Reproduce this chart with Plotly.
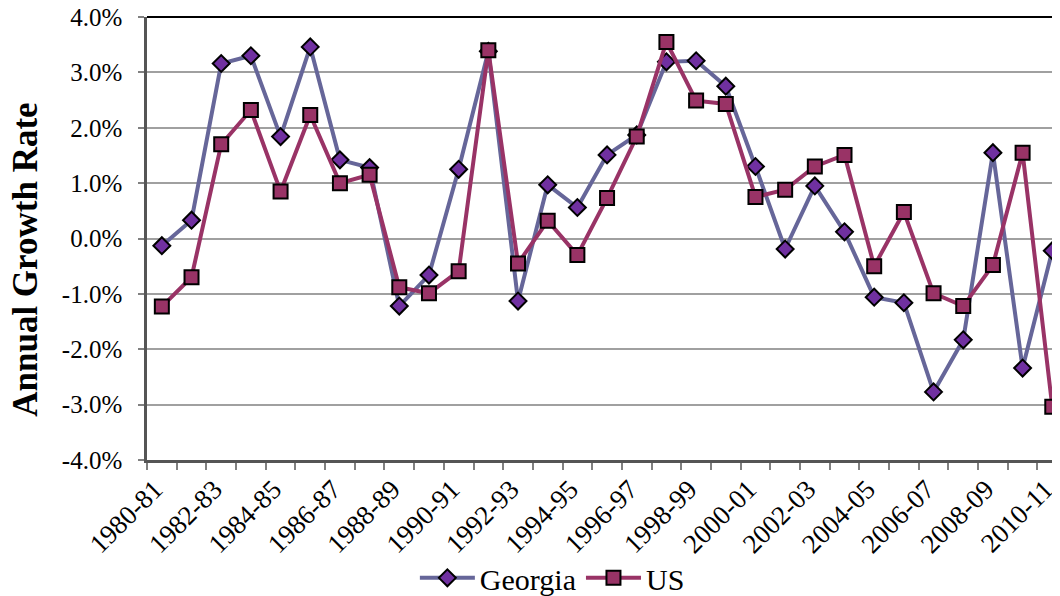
import plotly.graph_objects as go

# Data (annual growth rate, %)
years = ['1980-81', '1981-82', '1982-83', '1983-84', '1984-85', '1985-86', '1986-87', '1987-88',
         '1988-89', '1989-90', '1990-91', '1991-92', '1992-93', '1993-94', '1994-95', '1995-96',
         '1996-97', '1997-98', '1998-99', '1999-00', '2000-01', '2001-02', '2002-03', '2003-04',
         '2004-05', '2005-06', '2006-07', '2007-08', '2008-09', '2009-10', '2010-11']
georgia = [-0.13, 0.33, 3.16, 3.30, 1.84, 3.46, 1.42, 1.28, -1.22, -0.66, 1.25, 3.38, -1.13, 0.97,
           0.56, 1.51, 1.87, 3.19, 3.21, 2.75, 1.30, -0.19, 0.95, 0.12, -1.06, -1.16, -2.77, -1.83,
           1.55, -2.34, -0.22]
us = [-1.23, -0.70, 1.70, 2.32, 0.85, 2.23, 1.00, 1.15, -0.88, -0.99, -0.59, 3.40, -0.45, 0.32,
      -0.30, 0.73, 1.84, 3.55, 2.49, 2.43, 0.75, 0.88, 1.30, 1.51, -0.50, 0.48, -0.99, -1.22,
      -0.48, 1.55, -3.04]
y_ticks = [-4, -3, -2, -1, 0, 1, 2, 3, 4]
y_labels = ['-4.0%', '-3.0%', '-2.0%', '-1.0%', '0.0%', '1.0%', '2.0%', '3.0%', '4.0%']
x_labels = [y if i % 2 == 0 else '' for i, y in enumerate(years)]

font = 'Liberation Serif, Times New Roman, serif'

fig = go.Figure()
fig.add_trace(go.Scatter(
    x=years, y=georgia, name='Georgia', mode='lines+markers',
    line=dict(color='#666699', width=4),
    marker=dict(symbol='diamond', size=13, color='#7030A0', line=dict(color='black', width=2)),
))
fig.add_trace(go.Scatter(
    x=years, y=us, name='US', mode='lines+markers',
    line=dict(color='#993366', width=4),
    marker=dict(symbol='square', size=14, color='#993366', line=dict(color='black', width=2)),
))

# the page body adds an 8px offset, so margins are set 8px smaller on left/top
fig.update_layout(
    width=1060, height=596,
    margin=dict(l=139, r=8, t=9, b=144, autoexpand=False),
    paper_bgcolor='white', plot_bgcolor='white',
    font=dict(family=font, size=25, color='black'),
    showlegend=True,
    legend=dict(orientation='h', x=0.444, xanchor='center', y=-0.266, yanchor='middle',
                font=dict(size=30), itemwidth=55, tracegroupgap=0, bgcolor='rgba(0,0,0,0)'),
    annotations=[dict(text='<b>Annual Growth Rate</b>', textangle=-90, xref='paper', yref='paper',
                      x=-0.133, y=0.451, xanchor='center', yanchor='middle', showarrow=False,
                      font=dict(size=35))],
)
fig.update_xaxes(
    type='category', range=[-0.5, 30.26], tickmode='array', tickvals=years, ticktext=x_labels,
    tickson='boundaries', ticks='outside', ticklen=7, tickcolor='#808080', tickwidth=1.5,
    tickangle=-45, tickfont=dict(size=27), ticklabelshift=-7,
    ticklabeloverflow='allow',
    showgrid=False, showline=True, linecolor='#555555', linewidth=2.5,
    mirror=False, zeroline=False, automargin=False,
)
fig.update_yaxes(
    range=[-4, 4], tickmode='array', tickvals=y_ticks, ticktext=y_labels,
    ticks='outside', ticklen=6, tickcolor='#808080', tickwidth=1.5, ticklabelstandoff=11,
    ticklabeloverflow='allow',
    showgrid=True, gridcolor='#A0A0A0', gridwidth=1.5, zeroline=False,
    showline=True, linecolor='#555555', linewidth=2.5, automargin=False,
)
# top border of the plot area
fig.add_shape(type='line', xref='paper', yref='paper', x0=0, x1=1, y0=1, y1=1,
              line=dict(color='black', width=2))

fig.write_html('out.html')
